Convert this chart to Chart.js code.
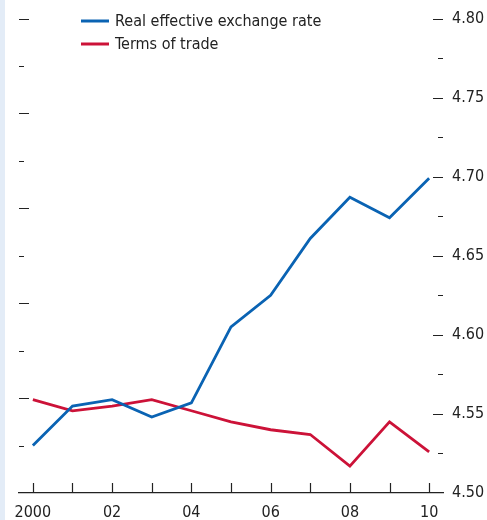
<!DOCTYPE html>
<html>
<head>
<meta charset="utf-8">
<script src="https://cdn.jsdelivr.net/npm/chart.js@4.4.1/dist/chart.umd.min.js"></script>
<style>
  html, body { margin: 0; padding: 0; background: #fff; }
  #wrap { position: relative; width: 487px; height: 520px; }
  #strip { position: absolute; left: 0; top: 0; width: 5px; height: 520px; background: #e3ecf7; }
</style>
</head>
<body>
<div id="wrap">
  <div id="strip"></div>
  <canvas id="chart" width="487" height="520"></canvas>
</div>
<script>
// years on the x axis
const years = [2000, 2001, 2002, 2003, 2004, 2005, 2006, 2007, 2008, 2009, 2010];
// log levels
const reer = [4.530, 4.555, 4.559, 4.548, 4.557, 4.605, 4.625, 4.661, 4.687, 4.674, 4.699];
const tot  = [4.559, 4.552, 4.555, 4.559, 4.552, 4.545, 4.540, 4.537, 4.517, 4.545, 4.526];
const seriesNames = ['Real effective exchange rate', 'Terms of trade'];
const rightTicks = [4.50, 4.525, 4.55, 4.575, 4.60, 4.625, 4.65, 4.675, 4.70, 4.725, 4.75, 4.775, 4.80];
const leftTicks = [0, 1, 2, 3, 4, 5, 6, 7, 8, 9, 10];

const FONT = "'DejaVu Sans Condensed', 'Liberation Sans Narrow', Roboto, sans-serif";
const BLUE = '#0a63b3';
const RED = '#cc1238';

function yearLabel(v) {
  if (v % 2 !== 0) return '';
  if (v === 2000) return '2000';
  return String(v).slice(2);
}

// tick marks point into the plot, long and short alternate
const tickMarks = {
  id: 'tickMarks',
  afterDraw(chart) {
    const ctx = chart.ctx;
    const area = chart.chartArea;
    const x = chart.scales.x, yR = chart.scales.y, yL = chart.scales.yL;
    ctx.save();
    ctx.strokeStyle = '#222';
    ctx.lineWidth = 1.2;
    ctx.beginPath();
    leftTicks.forEach(function (v) {
      if (v === 0) return;
      const py = Math.round(yL.getPixelForValue(v)) + 0.5;
      const len = (v % 2 === 0) ? 10 : 5;
      ctx.moveTo(area.left, py);
      ctx.lineTo(area.left + len, py);
    });
    rightTicks.forEach(function (v) {
      if (Math.abs(v - 4.50) < 1e-9) return;
      const py = Math.round(yR.getPixelForValue(v)) + 0.5;
      const major = Math.abs(Math.round(v * 20) - v * 20) < 1e-6;
      const len = major ? 10 : 5;
      ctx.moveTo(area.right, py);
      ctx.lineTo(area.right - len, py);
    });
    years.forEach(function (yr) {
      const px = Math.round(x.getPixelForValue(yr)) + 0.5;
      ctx.moveTo(px, area.bottom);
      ctx.lineTo(px, area.bottom - 10);
    });
    ctx.stroke();
    ctx.restore();
  }
};

// legend in the upper left of the plot
const lineLegend = {
  id: 'lineLegend',
  afterDraw(chart) {
    const ctx = chart.ctx;
    ctx.save();
    ctx.font = '16px ' + FONT;
    ctx.textBaseline = 'middle';
    chart.data.datasets.forEach(function (ds, i) {
      const y = 21 + i * 23;
      ctx.strokeStyle = ds.borderColor;
      ctx.lineWidth = 3;
      ctx.beginPath();
      ctx.moveTo(81, y);
      ctx.lineTo(109, y);
      ctx.stroke();
      ctx.fillStyle = '#222';
      ctx.fillText(ds.label, 115, y + 1);
    });
    ctx.restore();
  }
};

new Chart(document.getElementById('chart'), {
  type: 'line',
  data: {
    datasets: [
      {
        label: seriesNames[0],
        data: years.map(function (yr, i) { return { x: yr, y: reer[i] }; }),
        borderColor: BLUE,
        borderWidth: 2.8,
        pointRadius: 0,
        tension: 0,
        yAxisID: 'y'
      },
      {
        label: seriesNames[1],
        data: years.map(function (yr, i) { return { x: yr, y: tot[i] }; }),
        borderColor: RED,
        borderWidth: 2.8,
        pointRadius: 0,
        tension: 0,
        yAxisID: 'y'
      }
    ]
  },
  options: {
    responsive: false,
    animation: false,
    layout: { padding: { left: 19, top: 17, right: 0, bottom: 0 } },
    plugins: {
      legend: { display: false },
      tooltip: { enabled: false }
    },
    scales: {
      x: {
        type: 'linear',
        min: 1999.65,
        max: 2010.35,
        afterBuildTicks: function (scale) {
          scale.ticks = years.map(function (v) { return { value: v }; });
        },
        afterFit: function (scale) { scale.height = 27; },
        grid: { display: false, drawTicks: false },
        border: { display: true, color: '#222', width: 1.2 },
        ticks: {
          autoSkip: false,
          maxRotation: 0,
          padding: 10,
          color: '#222',
          font: { family: FONT, size: 16 },
          callback: function (v) { return yearLabel(v); }
        }
      },
      y: {
        position: 'right',
        min: 4.50,
        max: 4.80,
        afterBuildTicks: function (scale) {
          scale.ticks = [4.50, 4.55, 4.60, 4.65, 4.70, 4.75, 4.80].map(function (v) { return { value: v }; });
        },
        afterFit: function (scale) { scale.width = 44; },
        grid: { display: false, drawTicks: false },
        border: { display: false },
        ticks: {
          padding: 9,
          color: '#222',
          font: { family: FONT, size: 16 },
          callback: function (v) { return v.toFixed(2); }
        }
      },
      yL: {
        position: 'left',
        display: false,
        min: 0,
        max: 10
      }
    }
  },
  plugins: [tickMarks, lineLegend]
});
</script>
</body>
</html>
